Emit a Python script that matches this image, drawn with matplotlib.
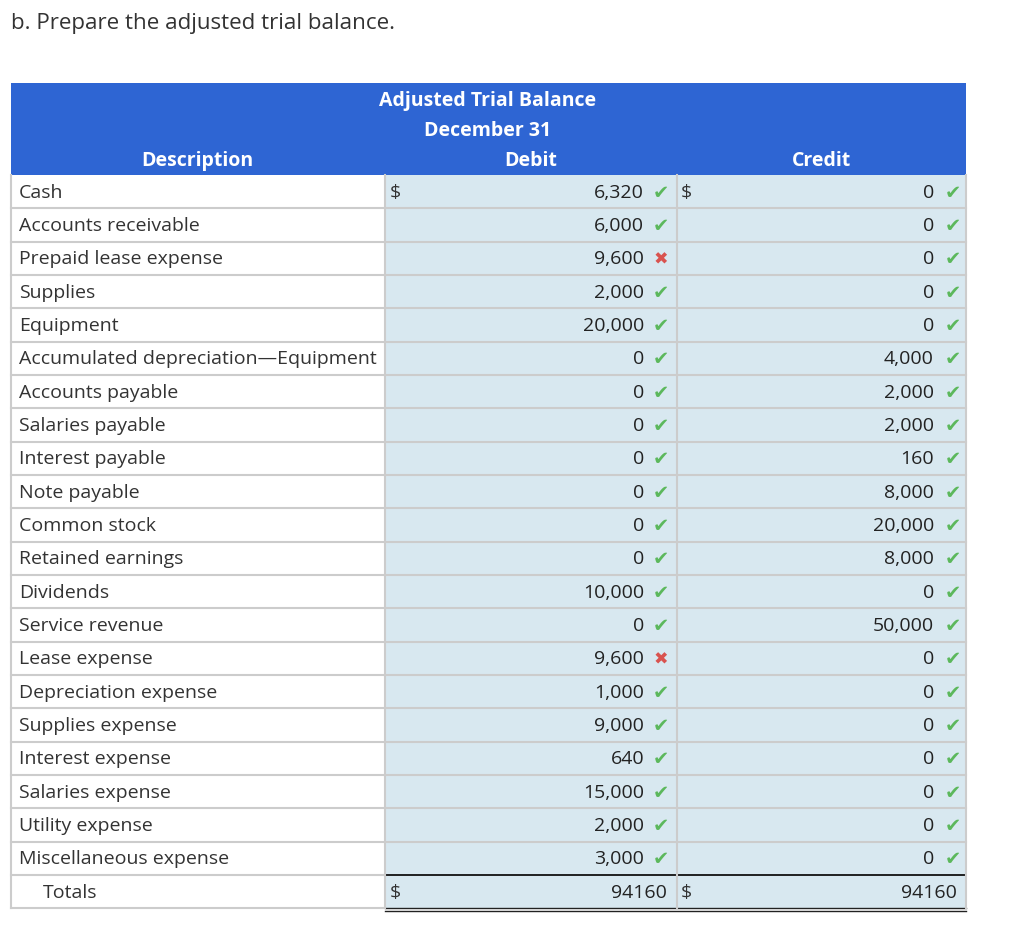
#!/usr/bin/env python3
"""Adjusted trial balance table drawn with matplotlib."""

import matplotlib

matplotlib.use("Agg")
import matplotlib.pyplot as plt
from matplotlib.patches import Rectangle

accounts = [
    "Cash", "Accounts receivable", "Prepaid lease expense", "Supplies",
    "Equipment", "Accumulated depreciation\u2014Equipment", "Accounts payable",
    "Salaries payable", "Interest payable", "Note payable", "Common stock",
    "Retained earnings", "Dividends", "Service revenue", "Lease expense",
    "Depreciation expense", "Supplies expense", "Interest expense",
    "Salaries expense", "Utility expense", "Miscellaneous expense",
]
debit = [6320, 6000, 9600, 2000, 20000, 0, 0, 0, 0, 0, 0, 0, 10000, 0,
         9600, 1000, 9000, 640, 15000, 2000, 3000]
credit = [0, 0, 0, 0, 0, 4000, 2000, 2000, 160, 8000, 20000, 8000, 0,
          50000, 0, 0, 0, 0, 0, 0, 0]
# True = correct (check), False = wrong (cross)
debit_ok = [True, True, False, True, True, True, True, True, True, True,
            True, True, True, True, False, True, True, True, True, True, True]
credit_ok = [True] * 21
total_debit = 94160
total_credit = 94160

BLUE = "#2e65d3"
CELL = "#d8e8f0"
GRID = "#cccccc"
TEXT = "#333333"
NUM = "#222222"
GREEN = "#5cb85c"
RED = "#d9534f"
FONT = "Open Sans"

# layout in pixels
x_left, x_desc, x_deb, x_right = 11, 384.5, 676.5, 966
head_top, row_top, row_h = 83, 175, 33.33


def fmt(v):
    return f"{v:,}"


def mark(ax, x, y, ok):
    if ok:
        ax.text(x, y + 1.5, "\u2714", color=GREEN, fontsize=14, ha="center",
                va="center", family="DejaVu Sans")
    else:
        ax.text(x, y + 1.5, "\u2716", color=RED, fontsize=12.5, ha="center",
                va="center", family="DejaVu Sans")


def main():
    fig = plt.figure(figsize=(10.24, 9.27), dpi=100)
    ax = fig.add_axes([0, 0, 1, 1])
    ax.set_xlim(0, 1024)
    ax.set_ylim(927, 0)
    ax.axis("off")

    ax.text(11, 23, "b. Prepare the adjusted trial balance.", fontsize=16.1,
            color=TEXT, va="center", ha="left", family=FONT)

    # header
    ax.add_patch(Rectangle((x_left, head_top), x_right - x_left,
                           row_top - head_top, color=BLUE, lw=0))
    hkw = dict(color="white", fontsize=14, fontweight="bold", ha="center",
               va="center", family=FONT)
    ax.text(488, 101, "Adjusted Trial Balance", **hkw)
    ax.text(488, 131, "December 31", **hkw)
    ax.text((x_left + x_desc) / 2, 161, "Description", **hkw)
    ax.text((x_desc + x_deb) / 2, 161, "Debit", **hkw)
    ax.text((x_deb + x_right) / 2, 161, "Credit", **hkw)

    n = len(accounts) + 1
    bottom = row_top + n * row_h
    ax.add_patch(Rectangle((x_desc, row_top), x_right - x_desc,
                           bottom - row_top, color=CELL, lw=0))

    # grid
    for i in range(1, n):
        y = row_top + i * row_h
        if i == n - 1:
            ax.plot([x_left, x_desc], [y, y], color=GRID, lw=1.5)
            ax.plot([x_desc, x_right], [y, y], color="#111111", lw=1.3)
        else:
            ax.plot([x_left, x_right], [y, y], color=GRID, lw=1.5)
    ax.plot([x_left, x_desc], [bottom, bottom], color=GRID, lw=1.5)
    ax.plot([x_desc, x_right], [bottom, bottom], color="#222222", lw=1.0)
    ax.plot([x_desc, x_right], [bottom + 3, bottom + 3], color="#222222", lw=1.0)
    for x in (x_left, x_desc, x_deb, x_right):
        ax.plot([x, x], [row_top, bottom], color=GRID, lw=1.5)

    tkw = dict(color=TEXT, fontsize=14, va="center", family=FONT)
    nkw = dict(color=NUM, fontsize=14, va="center", family=FONT)
    for i, name in enumerate(accounts):
        yc = row_top + (i + 0.5) * row_h
        ax.text(19, yc + 1, name, ha="left", **tkw)
        ax.text(644, yc + 1, fmt(debit[i]), ha="right", **nkw)
        mark(ax, 661, yc, debit_ok[i])
        ax.text(934, yc + 1, fmt(credit[i]), ha="right", **nkw)
        mark(ax, 953, yc, credit_ok[i])
        if i == 0:
            ax.text(390, yc + 1, "$", ha="left", **tkw)
            ax.text(681, yc + 1, "$", ha="left", **tkw)

    yc = row_top + (n - 0.5) * row_h + 1
    ax.text(43, yc, "Totals", ha="left", **tkw)
    ax.text(390, yc, "$", ha="left", **tkw)
    ax.text(667, yc, str(total_debit), ha="right", **nkw)
    ax.text(681, yc, "$", ha="left", **tkw)
    ax.text(957, yc, str(total_credit), ha="right", **nkw)

    fig.savefig("out.png", dpi=100)
    plt.close(fig)


if __name__ == "__main__":
    main()
